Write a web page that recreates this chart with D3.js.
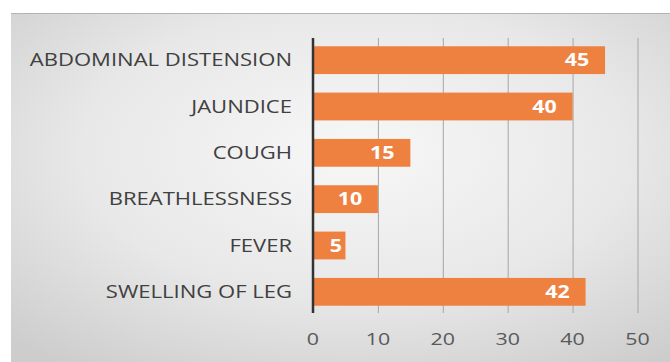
<!DOCTYPE html>
<html>
<head>
<meta charset="utf-8">
<script src="https://cdn.jsdelivr.net/npm/d3@7"></script>
<style>
  html, body { margin: 0; padding: 0; background: #ffffff; }
  svg { display: block; }
</style>
</head>
<body>
<svg id="chart" width="670" height="362"></svg>
<script>
const categories = ["ABDOMINAL DISTENSION", "JAUNDICE", "COUGH", "BREATHLESSNESS", "FEVER", "SWELLING OF LEG"];
const values = [45, 40, 15, 10, 5, 42];
const tickValues = [0, 10, 20, 30, 40, 50];

const svg = d3.select("#chart");
const W = 670, H = 362;

const defs = svg.append("defs");
const grad = defs.append("radialGradient")
  .attr("id", "bg").attr("cx", "52%").attr("cy", "40%").attr("r", "75%")
  .attr("gradientUnits", "objectBoundingBox");
grad.append("stop").attr("offset", "0%").attr("stop-color", "#f7f7f7");
grad.append("stop").attr("offset", "55%").attr("stop-color", "#e8e8e8");
grad.append("stop").attr("offset", "100%").attr("stop-color", "#cdcdcd");

svg.append("rect").attr("x", 11).attr("y", 13).attr("width", W - 11).attr("height", H - 13)
  .attr("fill", "url(#bg)");
svg.append("line").attr("x1", 11).attr("x2", W).attr("y1", 13.5).attr("y2", 13.5)
  .attr("stroke", "#b4b4b4").attr("stroke-width", 1);

const x = d3.scaleLinear().domain([0, 50]).range([313, 637.5]);
const y = d3.scaleBand().domain(categories).range([37, 315]).paddingInner(0.4).paddingOuter(0.2);

const font = "'Open Sans', 'Liberation Sans', sans-serif";
const stretch = 1.26;

// gridlines
svg.append("g").selectAll("line").data(tickValues.filter(d => d > 0)).join("line")
  .attr("x1", d => x(d) + 0.5).attr("x2", d => x(d) + 0.5)
  .attr("y1", 38).attr("y2", 313)
  .attr("stroke", "#a6a6a6").attr("stroke-width", 1);

// bars
svg.append("g").selectAll("rect").data(categories).join("rect")
  .attr("x", x(0)).attr("y", d => y(d))
  .attr("width", (d, i) => x(values[i]) - x(0))
  .attr("height", y.bandwidth())
  .attr("fill", "#ee8140");

// axis line (category axis)
svg.append("line").attr("x1", x(0)).attr("x2", x(0)).attr("y1", 38).attr("y2", 313)
  .attr("stroke", "#333333").attr("stroke-width", 2.5);

// category labels
svg.append("g").selectAll("text").data(categories).join("text")
  .attr("transform", d => `translate(292,${y(d) + y.bandwidth() / 2}) scale(${stretch},1)`)
  .attr("dy", "0.36em")
  .attr("text-anchor", "end")
  .attr("font-family", font).attr("font-size", 17.5)
  .attr("fill", "#404040")
  .text(d => d);

// value labels
svg.append("g").selectAll("text").data(categories).join("text")
  .attr("transform", (d, i) => `translate(${Math.max(x(values[i]) - 28, x(0) + 23)},${y(d) + y.bandwidth() / 2}) scale(${stretch},1)`)
  .attr("dy", "0.36em")
  .attr("text-anchor", "middle")
  .attr("font-family", font).attr("font-size", 17).attr("font-weight", "bold")
  .attr("fill", "#ffffff")
  .text((d, i) => values[i]);

// x tick labels
svg.append("g").selectAll("text").data(tickValues).join("text")
  .attr("transform", d => `translate(${x(d)},339) scale(${stretch},1)`)
  .attr("dy", "0.36em")
  .attr("text-anchor", "middle")
  .attr("font-family", font).attr("font-size", 17)
  .attr("fill", "#595959")
  .text(d => d);
</script>
</body>
</html>
